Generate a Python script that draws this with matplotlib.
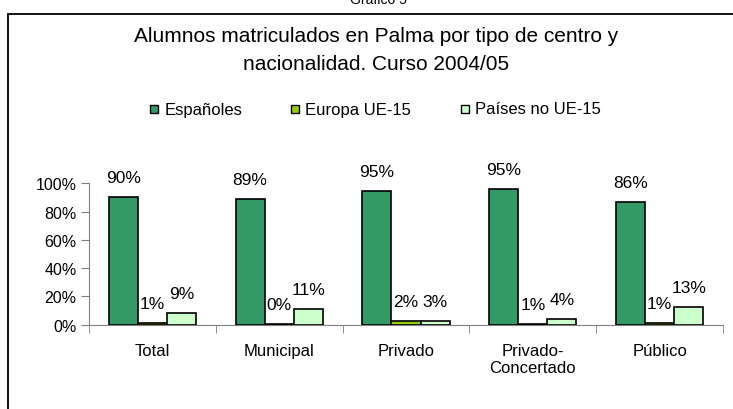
import matplotlib.pyplot as plt
import matplotlib.patches as patches
import numpy as np

plt.rcParams['font.family'] = ['Liberation Sans', 'DejaVu Sans']

categories = ["Total", "Municipal", "Privado", "Privado-\nConcertado", "Público"]
series_names = ["Españoles", "Europa UE-15", "Países no UE-15"]
espanoles = [90.5, 88.9, 94.8, 96.0, 86.6]
europa = [1.0, 0.3, 2.4, 0.4, 1.0]
no_ue = [8.5, 11.1, 2.8, 4.0, 12.7]
labels = [
    ["90%", "89%", "95%", "95%", "86%"],
    ["1%", "0%", "2%", "1%", "1%"],
    ["9%", "11%", "3%", "4%", "13%"],
]
colors = ["#339966", "#99CC00", "#CCFFCC"]

fig = plt.figure(figsize=(7.33, 4.10), dpi=100)

# frame of the chart object, cut by the page edge
fig.patches.append(patches.Rectangle((8 / 733, -0.1), 1.1, 1 - 15 / 410 + 0.1,
                                     transform=fig.transFigure, fill=False,
                                     edgecolor="black", linewidth=1.3))
fig.text(378 / 733, 1 - 0.5 / 410, "Gráfico 5", ha="center", va="center", fontsize=10)

fig.text(376 / 733, 1 - 36 / 410, "Alumnos matriculados en Palma por tipo de centro y",
         ha="center", va="center", fontsize=15)
fig.text(376 / 733, 1 - 65 / 410, "nacionalidad. Curso 2004/05",
         ha="center", va="center", fontsize=15)

ax = fig.add_axes([89 / 733, 1 - 325.7 / 410, (723 - 89) / 733, (325.7 - 184.3) / 410])

x = np.arange(len(categories))
w = 0.229
data = [espanoles, europa, no_ue]
for i, vals in enumerate(data):
    ax.bar(x + (i - 1) * w, vals, w, color=colors[i], edgecolor="black",
           linewidth=1.2, label=series_names[i], zorder=3)
    for j, v in enumerate(vals):
        ax.annotate(labels[i][j], (x[j] + (i - 1) * w, v), xytext=(0, 15),
                    textcoords="offset pixels", ha="center", va="baseline",
                    fontsize=12.5, annotation_clip=False)

ax.set_xlim(-0.5, len(categories) - 0.5)
ax.set_ylim(0, 100)
ax.set_yticks([0, 20, 40, 60, 80, 100])
ax.set_yticklabels(["0%", "20%", "40%", "60%", "80%", "100%"], fontsize=11.5)
ax.set_xticks(x)
ax.set_xticklabels(categories, fontsize=12)
ax.tick_params(axis="x", length=0, pad=13)
ax.tick_params(axis="y", length=6, color="#808080", pad=3)
ax.set_xticks(np.arange(len(categories) + 1) - 0.5, minor=True)
ax.tick_params(axis="x", which="minor", length=6, color="#808080", direction="out")
for s in ["top", "right"]:
    ax.spines[s].set_visible(False)
ax.spines["left"].set_color("#808080")
ax.spines["bottom"].set_color("#808080")
ax.patch.set_alpha(0)

# legend row
leg_items = [(154, 165), (295, 305), (465, 475)]
for (mx, tx), name, c in zip(leg_items, series_names, colors):
    fig.patches.append(patches.Rectangle(((mx - 4) / 733, 1 - 114 / 410), 8 / 733, 8 / 410,
                                         transform=fig.transFigure, facecolor=c,
                                         edgecolor="black", linewidth=1))
    fig.text(tx / 733, 1 - 110 / 410, name, ha="left", va="center", fontsize=12)

fig.savefig("out.png", dpi=100)
